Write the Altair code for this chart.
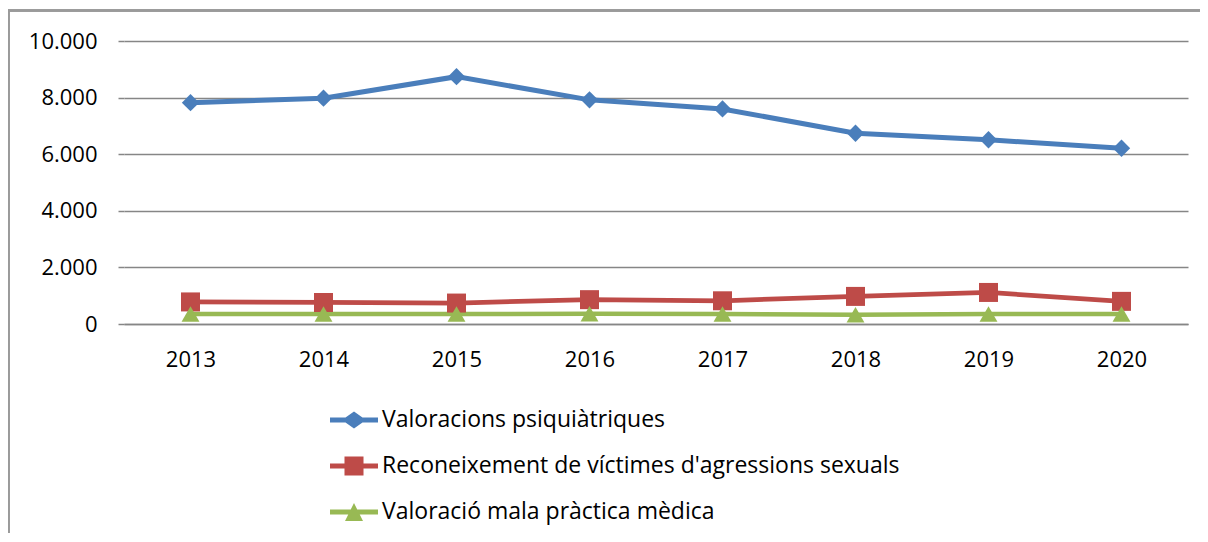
import altair as alt
import pandas as pd

years = ["2013", "2014", "2015", "2016", "2017", "2018", "2019", "2020"]
series = [
    "Valoracions psiquiàtriques",
    "Reconeixement de víctimes d'agressions sexuals",
    "Valoració mala pràctica mèdica",
]
psiquiatriques = [7820, 7980, 8740, 7920, 7600, 6740, 6510, 6210]
agressions = [780, 760, 740, 860, 820, 975, 1115, 800]
mala_practica = [350, 350, 350, 360, 350, 330, 350, 350]
y_ticks = [0, 2000, 4000, 6000, 8000, 10000]

colors = ["#4A7EBB", "#BE4B48", "#98B954"]
shapes = ["diamond", "square", "triangle-up"]
marker_sizes = [300, 361, 320]
line_widths = [5, 4.5, 4]

# legend glyphs: a line segment with the series marker (unit box, scaled by Vega)
h = 0.104
legend_paths = [
    f"M-1,{-h}L-0.354,{-h}L0,-0.354L0.354,{-h}L1,{-h}L1,{h}L0.354,{h}L0,0.354L-0.354,{h}L-1,{h}Z",
    f"M-1,{-h}L-0.396,{-h}L-0.396,-0.396L0.396,-0.396L0.396,{-h}L1,{-h}L1,{h}L0.396,{h}L0.396,0.396L-0.396,0.396L-0.396,{h}L-1,{h}Z",
    f"M-1,{-h}L-0.1355,{-h}L0,-0.375L0.1355,{-h}L1,{-h}L1,{h}L0.2395,{h}L0.375,0.375L-0.375,0.375L-0.2395,{h}L-1,{h}Z",
]

rows = []
for name, vals in zip(series, [psiquiatriques, agressions, mala_practica]):
    for yr, v in zip(years, vals):
        rows.append({"year": yr, "serie": name, "value": v})
df = pd.DataFrame(rows)

FONT = "Open Sans"
GRID = "#868686"

x_enc = alt.X(
    "year:N", sort=years,
    scale=alt.Scale(paddingInner=0, paddingOuter=0),
    axis=alt.Axis(title=None, labelAngle=0, labelFont=FONT, labelFontSize=22,
                  labelColor="black", ticks=False, domain=True, domainColor=GRID,
                  domainWidth=1.5, grid=False, labelPadding=25),
)
y_enc = alt.Y(
    "value:Q", scale=alt.Scale(domain=[0, 10000], nice=False),
    axis=alt.Axis(title=None, values=y_ticks,
                  labelExpr="replace(format(datum.value, ','), ',', '.')",
                  labelFont=FONT, labelFontSize=22, labelColor="black",
                  grid=True, gridColor=GRID, gridWidth=1.5, domain=False,
                  ticks=True, tickColor=GRID, tickSize=6, tickWidth=1.5,
                  labelPadding=21),
)

base = alt.Chart(df)

lines = base.mark_line().encode(
    x=x_enc, y=y_enc,
    stroke=alt.Stroke("serie:N", scale=alt.Scale(domain=series, range=colors), legend=None),
    strokeWidth=alt.StrokeWidth("serie:N", scale=alt.Scale(domain=series, range=line_widths), legend=None),
)

point_layers = []
for name, col, shp, sz in zip(series, colors, shapes, marker_sizes):
    point_layers.append(
        base.transform_filter(alt.datum.serie == name)
        .mark_point(filled=True, opacity=1, strokeWidth=0, shape=shp, size=sz, fill=col)
        .encode(x=x_enc, y=y_enc)
    )

# one single-entry legend per series (line + marker glyph)
legend_layers = []
for i, (name, col, path) in enumerate(zip(series, colors, legend_paths)):
    legend_layers.append(
        base.transform_filter("false")
        .mark_point(filled=True, opacity=1, color=col, fill=col)
        .encode(
            shape=alt.Shape(
                "serie:N", scale=alt.Scale(domain=[name], range=[path]),
                legend=alt.Legend(
                    title=None, orient="none", legendX=206, legendY=355 + 46 * i,
                    symbolSize=2304, symbolStrokeWidth=0, symbolFillColor=col,
                    labelFont=FONT, labelFontSize=23, labelColor="black",
                    labelOffset=4, labelLimit=800),
            ),
        )
    )

frame = base.mark_rect(fillOpacity=0, stroke="#9a9a9a", strokeWidth=1.5, clip=False).encode(
    x=alt.value(-115.5), x2=alt.value(1150), y=alt.value(-30.5), y2=alt.value(600)
)

chart = alt.layer(frame, lines, *point_layers, *legend_layers).resolve_scale(
    shape="independent"
).properties(
    width=1064, height=283,
    autosize=alt.AutoSizeParams(type="none"),
    padding={"left": 116, "top": 33, "right": 12, "bottom": 209},
).configure_view(strokeWidth=0)

chart.save("out.html", embed_options={"renderer": "svg", "actions": False})
